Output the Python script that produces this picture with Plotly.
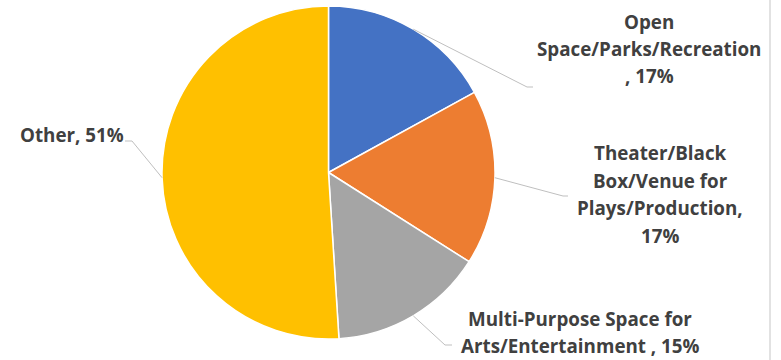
import math
import plotly.graph_objects as go

# Share of respondents by type of space
categories = [
    "Open Space/Parks/Recreation",
    "Theater/Black Box/Venue for Plays/Production",
    "Multi-Purpose Space for Arts/Entertainment",
    "Other",
]
values = [17, 17, 15, 51]
colors = ["#4472C4", "#ED7D31", "#A5A5A5", "#FFC000"]

# Data label text, one list of lines per slice ("{p}" is replaced by the share)
label_lines = [
    ["Open", "Space/Parks/Recreation", ", {p}%"],
    ["Theater/Black", "Box/Venue for", "Plays/Production,", "{p}%"],
    ["Multi-Purpose Space for", "Arts/Entertainment , {p}%"],
    ["Other, {p}%"],
]

W, H = 781, 360
CX, CY, R = 328.5, 172.5, 166.5  # pie centre and radius in pixels

# label placement: centre x, first-line y, line step (px)
label_pos = [(649, 22, 27), (660, 153, 27.5), (580, 319, 27), (72, 135, 0)]
# leader line elbow and end points (px)
leader_pts = [((527, 87), (533, 87)), ((563, 196), (568, 196)),
              ((445, 345), (452, 345)), ((132, 141), (125, 141))]


def px(x):
    return x / W


def py(y):
    return 1 - y / H


fig = go.Figure(
    go.Pie(
        labels=categories,
        values=values,
        sort=False,
        direction="clockwise",
        rotation=0,
        marker=dict(colors=colors, line=dict(color="white", width=1.5)),
        textinfo="none",
        hoverinfo="label+percent",
        domain=dict(x=[px(CX - R), px(CX + R)], y=[py(CY + R), py(CY - R)]),
        showlegend=False,
    )
)

annotations = []
shapes = []
total = sum(values)
cum = 0
for i, v in enumerate(values):
    mid = (cum + v / 2) / total * 2 * math.pi
    cum += v
    sx = CX + R * math.sin(mid)
    sy = CY - R * math.cos(mid)
    (ex, ey), (tx, ty) = leader_pts[i]
    shapes.append(dict(
        type="path", xref="paper", yref="paper",
        path=f"M {px(sx)},{py(sy)} L {px(ex)},{py(ey)} L {px(tx)},{py(ty)}",
        line=dict(color="#BFBFBF", width=1),
    ))
    cx, y0, step = label_pos[i]
    for j, line in enumerate(label_lines[i]):
        annotations.append(dict(
            x=px(cx), y=py(y0 + j * step), xref="paper", yref="paper",
            text=line.format(p=v), showarrow=False,
            xanchor="center", yanchor="middle", borderpad=0,
            font=dict(family="Open Sans", size=18.8, color="#404040", weight="bold"),
        ))

# right-hand frame edge
shapes.append(dict(type="line", xref="paper", yref="paper",
                   x0=px(770), x1=px(770), y0=0, y1=1,
                   line=dict(color="#D9D9D9", width=1.5)))

fig.update_layout(
    width=W, height=H,
    margin=dict(l=0, r=0, t=0, b=0),
    paper_bgcolor="white",
    plot_bgcolor="white",
    annotations=annotations,
    shapes=shapes,
)

fig.write_html("out.html")
